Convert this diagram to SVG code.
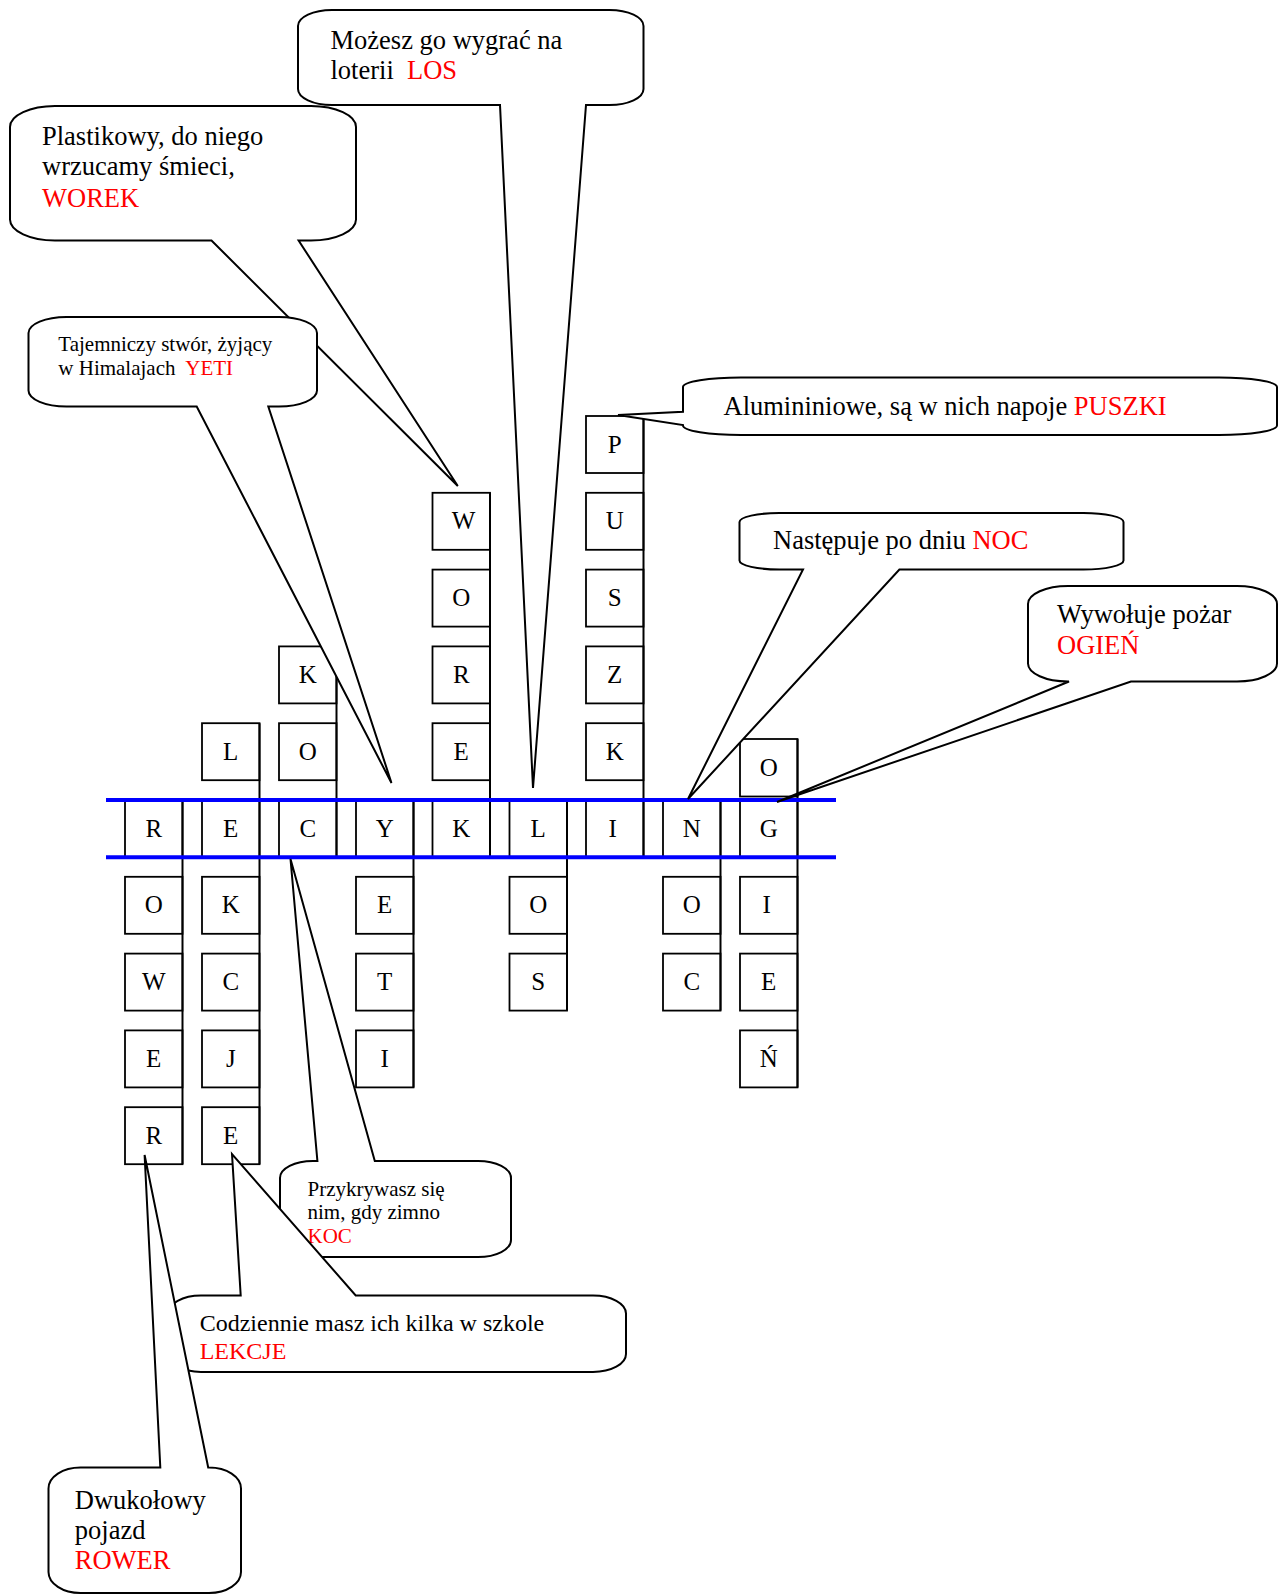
<svg xmlns="http://www.w3.org/2000/svg" width="1279" height="1595" viewBox="0 0 1279 1595">
<style>
.bg{fill:#fff}
.cell{fill:#fff;stroke:#000;stroke-width:1.8}
.col{stroke:#000;stroke-width:2;fill:none}
.hl{stroke:#0000ff;stroke-width:4}
.ltr{font-family:"Liberation Serif","Times New Roman",serif;font-size:25px;text-anchor:middle;fill:#000}
.co{fill:#fff;stroke:#000;stroke-width:2;stroke-linejoin:miter}
.t{font-family:"Liberation Serif","Times New Roman",serif;font-size:26.5px;fill:#000}
.t24{font-size:24px}
.t21{font-size:21px}
.r{fill:#ff0000}
</style>
<rect class="bg" x="0" y="0" width="1279" height="1595"/>

<g id="grid">
  <g id="col-rower">
    <rect class="cell" x="125" y="800" width="57.5" height="57"/><text class="ltr" x="153.75" y="836.5">R</text>
    <rect class="cell" x="125" y="876.8" width="57.5" height="57"/><text class="ltr" x="153.75" y="913.3">O</text>
    <rect class="cell" x="125" y="953.6" width="57.5" height="57"/><text class="ltr" x="153.75" y="990.1">W</text>
    <rect class="cell" x="125" y="1030.4" width="57.5" height="57"/><text class="ltr" x="153.75" y="1066.9">E</text>
    <rect class="cell" x="125" y="1107.2" width="57.5" height="57"/><text class="ltr" x="153.75" y="1143.7">R</text>
    <line class="col" x1="182.5" y1="800" x2="182.5" y2="1164.2"/>
  </g>
  <g id="col-lekcje">
    <rect class="cell" x="202" y="723.2" width="57.5" height="57"/><text class="ltr" x="230.75" y="759.7">L</text>
    <rect class="cell" x="202" y="800" width="57.5" height="57"/><text class="ltr" x="230.75" y="836.5">E</text>
    <rect class="cell" x="202" y="876.8" width="57.5" height="57"/><text class="ltr" x="230.75" y="913.3">K</text>
    <rect class="cell" x="202" y="953.6" width="57.5" height="57"/><text class="ltr" x="230.75" y="990.1">C</text>
    <rect class="cell" x="202" y="1030.4" width="57.5" height="57"/><text class="ltr" x="230.75" y="1066.9">J</text>
    <rect class="cell" x="202" y="1107.2" width="57.5" height="57"/><text class="ltr" x="230.75" y="1143.7">E</text>
    <line class="col" x1="259.5" y1="723.2" x2="259.5" y2="1164.2"/>
  </g>
  <g id="col-koc">
    <rect class="cell" x="279" y="646.4" width="57.5" height="57"/><text class="ltr" x="307.75" y="682.9">K</text>
    <rect class="cell" x="279" y="723.2" width="57.5" height="57"/><text class="ltr" x="307.75" y="759.7">O</text>
    <rect class="cell" x="279" y="800" width="57.5" height="57"/><text class="ltr" x="307.75" y="836.5">C</text>
    <line class="col" x1="336.5" y1="646.4" x2="336.5" y2="857"/>
  </g>
  <g id="col-yeti">
    <rect class="cell" x="356" y="800" width="57.5" height="57"/><text class="ltr" x="384.75" y="836.5">Y</text>
    <rect class="cell" x="356" y="876.8" width="57.5" height="57"/><text class="ltr" x="384.75" y="913.3">E</text>
    <rect class="cell" x="356" y="953.6" width="57.5" height="57"/><text class="ltr" x="384.75" y="990.1">T</text>
    <rect class="cell" x="356" y="1030.4" width="57.5" height="57"/><text class="ltr" x="384.75" y="1066.9">I</text>
    <line class="col" x1="413.5" y1="800" x2="413.5" y2="1087.4"/>
  </g>
  <g id="col-worek">
    <rect class="cell" x="432.5" y="492.8" width="57.5" height="57"/><text class="ltr" x="463.5" y="529.3">W</text>
    <rect class="cell" x="432.5" y="569.6" width="57.5" height="57"/><text class="ltr" x="461.25" y="606.1">O</text>
    <rect class="cell" x="432.5" y="646.4" width="57.5" height="57"/><text class="ltr" x="461.25" y="682.9">R</text>
    <rect class="cell" x="432.5" y="723.2" width="57.5" height="57"/><text class="ltr" x="461.25" y="759.7">E</text>
    <rect class="cell" x="432.5" y="800" width="57.5" height="57"/><text class="ltr" x="461.25" y="836.5">K</text>
    <line class="col" x1="490" y1="492.8" x2="490" y2="857"/>
  </g>
  <g id="col-los">
    <rect class="cell" x="509.5" y="800" width="57.5" height="57"/><text class="ltr" x="538.25" y="836.5">L</text>
    <rect class="cell" x="509.5" y="876.8" width="57.5" height="57"/><text class="ltr" x="538.25" y="913.3">O</text>
    <rect class="cell" x="509.5" y="953.6" width="57.5" height="57"/><text class="ltr" x="538.25" y="990.1">S</text>
    <line class="col" x1="567" y1="800" x2="567" y2="1010.6"/>
  </g>
  <g id="col-puszki">
    <rect class="cell" x="586" y="416" width="57.5" height="57"/><text class="ltr" x="614.75" y="452.5">P</text>
    <rect class="cell" x="586" y="492.8" width="57.5" height="57"/><text class="ltr" x="614.75" y="529.3">U</text>
    <rect class="cell" x="586" y="569.6" width="57.5" height="57"/><text class="ltr" x="614.75" y="606.1">S</text>
    <rect class="cell" x="586" y="646.4" width="57.5" height="57"/><text class="ltr" x="614.75" y="682.9">Z</text>
    <rect class="cell" x="586" y="723.2" width="57.5" height="57"/><text class="ltr" x="614.75" y="759.7">K</text>
    <rect class="cell" x="586" y="800" width="57.5" height="57"/><text class="ltr" x="612.75" y="836.5">I</text>
    <line class="col" x1="643.5" y1="416" x2="643.5" y2="857"/>
  </g>
  <g id="col-noc">
    <rect class="cell" x="663" y="800" width="57.5" height="57"/><text class="ltr" x="691.75" y="836.5">N</text>
    <rect class="cell" x="663" y="876.8" width="57.5" height="57"/><text class="ltr" x="691.75" y="913.3">O</text>
    <rect class="cell" x="663" y="953.6" width="57.5" height="57"/><text class="ltr" x="691.75" y="990.1">C</text>
    <line class="col" x1="720.5" y1="800" x2="720.5" y2="1010.6"/>
  </g>
  <g id="col-ogien">
    <rect class="cell" x="740" y="739" width="57.5" height="57.5"/><text class="ltr" x="768.75" y="775.5">O</text>
    <rect class="cell" x="740" y="800" width="57.5" height="57"/><text class="ltr" x="768.75" y="836.5">G</text>
    <rect class="cell" x="740" y="876.8" width="57.5" height="57"/><text class="ltr" x="766.75" y="913.3">I</text>
    <rect class="cell" x="740" y="953.6" width="57.5" height="57"/><text class="ltr" x="768.75" y="990.1">E</text>
    <rect class="cell" x="740" y="1030.4" width="57.5" height="57"/><text class="ltr" x="768.75" y="1066.9">Ń</text>
    <line class="col" x1="797.5" y1="739" x2="797.5" y2="1087.4"/>
  </g>
</g>

<g id="highlight">
  <line class="hl" x1="106" y1="800" x2="836" y2="800"/>
  <line class="hl" x1="106" y1="857.3" x2="836" y2="857.3"/>
</g>

<g id="callouts">
  <g id="clue-los">
    <path class="co" d="M332,10 H609.5 A34,16 0 0 1 643.5,26 V89 A34,16 0 0 1 609.5,105 H586 L533,788 L500,105 H332 A34,16 0 0 1 298,89 V26 A34,16 0 0 1 332,10 Z"/>
    <text class="t" x="330.5" y="48.5">Możesz go wygrać na</text>
    <text class="t" x="330.5" y="79" xml:space="preserve">loterii  <tspan class="r">LOS</tspan></text>
  </g>
  <g id="clue-worek">
    <path class="co" d="M55,106 H311 A45,21 0 0 1 356,127 V219.5 A45,21 0 0 1 311,240.5 H298.6 L457.8,486 L211.5,240.5 H55 A45,21 0 0 1 10,219.5 V127 A45,21 0 0 1 55,106 Z"/>
    <text class="t" x="42" y="145">Plastikowy, do niego</text>
    <text class="t" x="42" y="175">wrzucamy śmieci,</text>
    <text class="t r" x="42" y="206.5">WOREK</text>
  </g>
  <g id="clue-yeti">
    <path class="co" d="M66.5,317 H279 A38,16 0 0 1 317,333 V390.5 A38,16 0 0 1 279,406.5 H268.3 L391.5,783 L196.7,406.5 H66.5 A38,16 0 0 1 28.5,390.5 V333 A38,16 0 0 1 66.5,317 Z"/>
    <text class="t t21" x="58.3" y="350.7">Tajemniczy stwór, żyjący</text>
    <text class="t t21" x="58.3" y="375" xml:space="preserve">w Himalajach  <tspan class="r">YETI</tspan></text>
  </g>
  <g id="clue-puszki">
    <path class="co" d="M741,377.5 H1219 A58,9.5 0 0 1 1277,387 V425.5 A58,9.5 0 0 1 1219,435 H741 A58,9.5 0 0 1 683,425.5 V425 L618,415 L683,411.7 V387 A58,9.5 0 0 1 741,377.5 Z"/>
    <text class="t" x="723.5" y="414.5">Alumininiowe, są w nich napoje <tspan class="r">PUSZKI</tspan></text>
  </g>
  <g id="clue-noc">
    <path class="co" d="M779.5,513 H1083.5 A40,9 0 0 1 1123.5,522 V560.5 A40,9 0 0 1 1083.5,569.5 H899.4 L688,799 L803,569.5 H779.5 A40,9 0 0 1 739.5,560.5 V522 A40,9 0 0 1 779.5,513 Z"/>
    <text class="t" x="773" y="548.5">Następuje po dniu <tspan class="r">NOC</tspan></text>
  </g>
  <g id="clue-ogien">
    <path class="co" d="M1068,586 H1237 A40,18 0 0 1 1277,604 V663.5 A40,18 0 0 1 1237,681.5 H1131 L777,802 L1069,681.5 H1068 A40,18 0 0 1 1028,663.5 V604 A40,18 0 0 1 1068,586 Z"/>
    <text class="t" x="1057" y="623.3">Wywołuje pożar</text>
    <text class="t r" x="1057" y="653.5">OGIEŃ</text>
  </g>
  <g id="clue-koc">
    <path class="co" d="M313,1161 H317.4 L290.5,859 L374.8,1161 H478 A33,17 0 0 1 511,1178 V1240 A33,17 0 0 1 478,1257 H313 A33,17 0 0 1 280,1240 V1178 A33,17 0 0 1 313,1161 Z"/>
    <text class="t t21" x="307.5" y="1195.5">Przykrywasz się</text>
    <text class="t t21" x="307.5" y="1218.7">nim, gdy zimno</text>
    <text class="t t21 r" x="307.5" y="1243.3">KOC</text>
  </g>
  <g id="clue-lekcje">
    <path class="co" d="M201,1295.5 H240.7 L232,1154 L355.7,1295.5 H593 A33,18 0 0 1 626,1313.5 V1354 A33,18 0 0 1 593,1372 H201 A33,18 0 0 1 168,1354 V1313.5 A33,18 0 0 1 201,1295.5 Z"/>
    <text class="t t24" x="199.7" y="1331">Codziennie masz ich kilka w szkole</text>
    <text class="t t24 r" x="199.7" y="1359">LEKCJE</text>
  </g>
  <g id="clue-rower">
    <path class="co" d="M80.5,1467.5 H160.3 L144.6,1155 L208.2,1467.5 H209 A32,21 0 0 1 241,1488.5 V1572 A32,21 0 0 1 209,1593 H80.5 A32,21 0 0 1 48.5,1572 V1488.5 A32,21 0 0 1 80.5,1467.5 Z"/>
    <text class="t" x="74.8" y="1508.5">Dwukołowy</text>
    <text class="t" x="74.8" y="1538.5">pojazd</text>
    <text class="t r" x="74.8" y="1569">ROWER</text>
  </g>
</g>
</svg>
